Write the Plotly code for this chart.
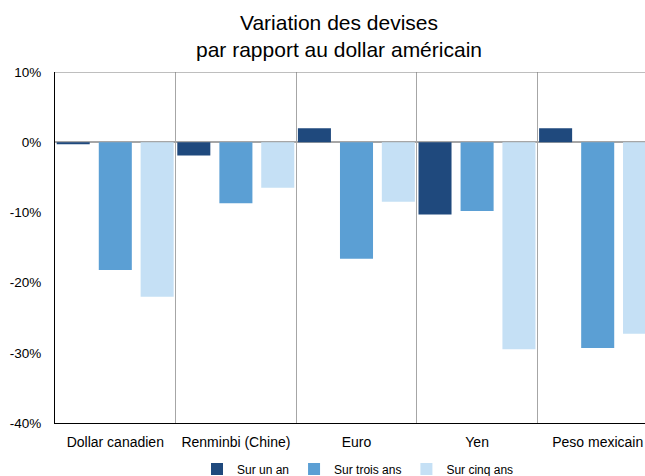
import plotly.graph_objects as go

# Currencies and their change against the US dollar (%)
devises = ["Dollar canadien", "Renminbi (Chine)", "Euro", "Yen", "Peso mexicain"]
sur_un_an = [-0.3, -1.9, 2.0, -10.3, 2.0]
sur_trois_ans = [-18.2, -8.7, -16.6, -9.8, -29.3]
sur_cinq_ans = [-22.0, -6.5, -8.5, -29.5, -27.3]

series_noms = ["Sur un an", "Sur trois ans", "Sur cinq ans"]
y_ticks = [-40, -30, -20, -10, 0, 10]
y_tick_labels = ["-40%", "-30%", "-20%", "-10%", "0%", "10%"]

couleurs = ["#1f497d", "#5b9fd4", "#c5e0f5"]
decalages = [-0.486, -0.137, 0.21]
largeur = 0.274

fig = go.Figure()
for nom, valeurs, couleur, dec in zip(series_noms,
                                      [sur_un_an, sur_trois_ans, sur_cinq_ans],
                                      couleurs, decalages):
    fig.add_trace(go.Bar(
        x=devises, y=valeurs, name=nom,
        marker=dict(color=couleur, line=dict(width=0)),
        width=largeur, offset=dec,
    ))

police = "Liberation Sans, Arial, sans-serif"

fig.update_layout(
    width=645, height=476,
    margin=dict(l=55, r=0, t=72, b=53),
    paper_bgcolor="white", plot_bgcolor="white",
    barmode="overlay",
    font=dict(family=police, size=12, color="#000000"),
    title=dict(
        text="Variation des devises<br>par rapport au dollar américain",
        x=339 / 645, xref="container", xanchor="center",
        y=0.938, yref="container", yanchor="top",
        font=dict(family=police, size=21, color="#000000"),
    ),
    showlegend=True,
    legend=dict(
        orientation="h",
        x=197 / 645, xref="container", xanchor="left",
        y=1 - 469 / 476, yref="container", yanchor="middle",
        font=dict(family=police, size=12, color="#000000"),
        traceorder="normal",
    ),
    xaxis=dict(
        type="category",
        range=[-0.5, -0.5 + 590 / 120.6],
        showgrid=True, gridcolor="#a6a6a6", gridwidth=1,
        tickson="boundaries", ticks="",
        showline=True, linecolor="#000000", linewidth=1,
        tickfont=dict(family=police, size=14, color="#000000"),
        tickangle=0, ticklabelstandoff=6,
        fixedrange=True,
    ),
    yaxis=dict(
        range=[-40, 10],
        tickvals=y_ticks, ticktext=y_tick_labels,
        showgrid=False, ticks="",
        zeroline=True, zerolinecolor="#a6a6a6", zerolinewidth=1.5,
        showline=True, linecolor="#000000", linewidth=1,
        tickfont=dict(family=police, size=13.5, color="#000000"),
        ticklabelstandoff=10,
        fixedrange=True,
    ),
    shapes=[dict(
        type="line", xref="paper", yref="y",
        x0=0, x1=1, y0=10, y1=10,
        line=dict(color="#7f7f7f", width=1),
    )],
)

fig.write_html("out.html")
